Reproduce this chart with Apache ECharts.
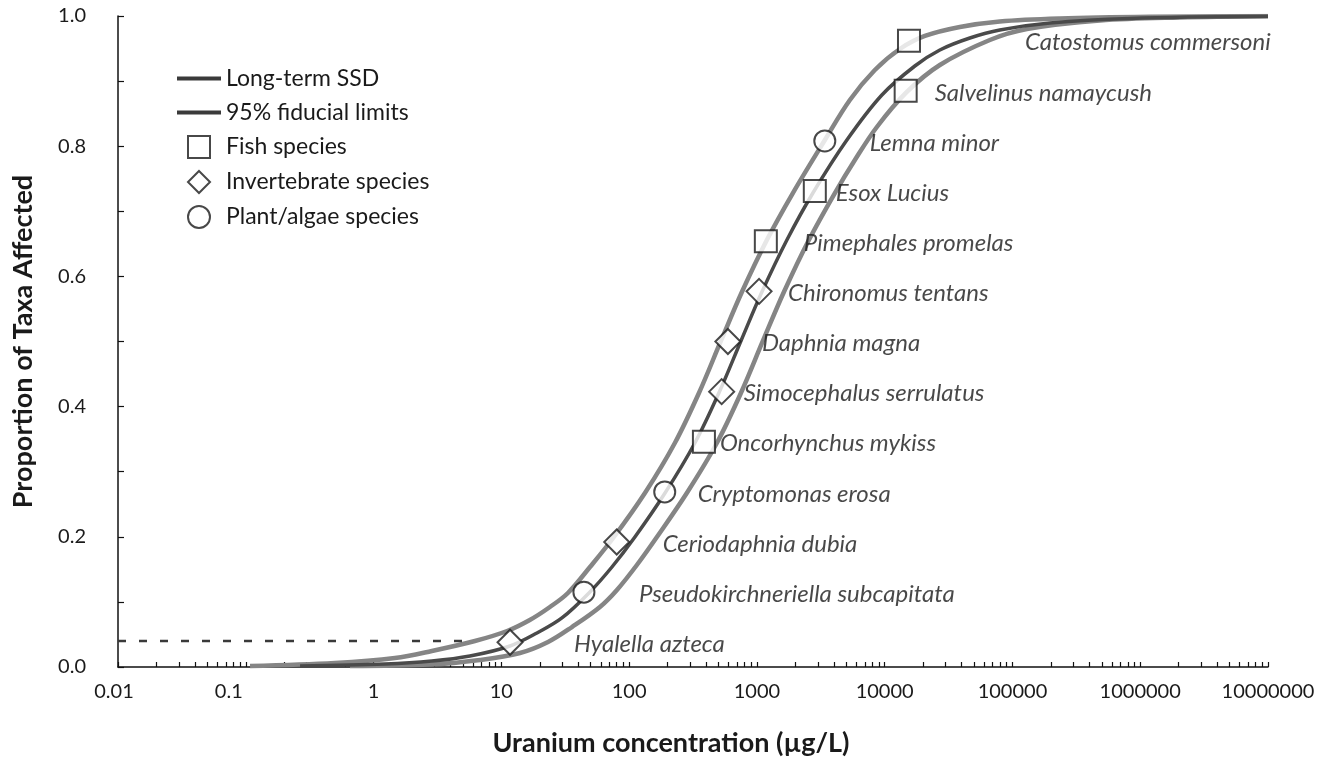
<!DOCTYPE html>
<html>
<head>
<meta charset="utf-8">
<script src="https://cdn.jsdelivr.net/npm/echarts@6/dist/echarts.min.js"></script>
<style>
html,body{margin:0;padding:0;background:#fff;}
#ssdChart{width:1327px;height:769px;}
</style>
</head>
<body>
<div id="ssdChart"></div>
<script>
// species data (concentration in ug/L, plotted proportion)
var species = ['Hyalella azteca','Pseudokirchneriella subcapitata','Ceriodaphnia dubia','Cryptomonas erosa',
	'Oncorhynchus mykiss','Simocephalus serrulatus','Daphnia magna','Chironomus tentans','Pimephales promelas',
	'Esox Lucius','Lemna minor','Salvelinus namaycush','Catostomus commersoni'];
var speciesGroup = ['inv','plant','inv','plant','fish','inv','inv','inv','fish','fish','plant','fish','fish'];
var speciesConc = [11.7, 44.3, 80, 190, 385, 530, 593, 1040, 1175, 2840, 3400, 14600, 15500];
var speciesProp = [0.038, 0.115, 0.192, 0.269, 0.346, 0.423, 0.5, 0.577, 0.654, 0.731, 0.808, 0.885, 0.962];

// fitted SSD curve and its 95% fiducial limits
var ssdX = [0.266, 1.23, 2.86, 5.68, 11.7, 19, 29.8, 48.5, 73.4, 111, 191, 327, 504, 750, 1094, 1717, 2743, 5060, 9510, 17230, 27030, 46420, 79660, 196200, 828900, 10000000];
var ssdY = [0.0015, 0.0046, 0.0092, 0.0169, 0.0323, 0.0522, 0.0753, 0.1137, 0.1536, 0.1997, 0.2673, 0.3441, 0.4209, 0.5008, 0.576, 0.6559, 0.7281, 0.8095, 0.8787, 0.9232, 0.9478, 0.9662, 0.9785, 0.9892, 0.9962, 0.9995];
var lowerX = [0.108, 0.499, 1.47, 2.86, 6.21, 11.1, 16.7, 24, 33.2, 49.4, 76, 133, 228, 352, 523, 763, 1197, 1913, 3405, 5343, 8381, 13150, 20640, 38760, 79660, 234900, 1189000, 10000000];
var lowerY = [0.0015, 0.0061, 0.0138, 0.0246, 0.0399, 0.0553, 0.0722, 0.0922, 0.1137, 0.1536, 0.1997, 0.2673, 0.3441, 0.4209, 0.5008, 0.576, 0.6559, 0.7281, 0.8095, 0.871, 0.917, 0.9493, 0.9693, 0.9831, 0.9916, 0.9962, 0.9988, 1.0];
var upperX = [0.654, 2.76, 6.8, 14, 23.2, 35.7, 59.1, 80.3, 115, 165, 283, 486, 750, 1114, 1627, 2552, 4077, 5846, 8690, 14920, 27030, 66560, 129700, 483100, 2040000, 10000000];
var upperY = [0.0015, 0.0038, 0.0108, 0.0215, 0.0384, 0.0614, 0.0922, 0.1183, 0.1567, 0.1997, 0.2673, 0.3441, 0.4209, 0.5008, 0.576, 0.6559, 0.7281, 0.7788, 0.8295, 0.8833, 0.9247, 0.9631, 0.98, 0.9931, 0.9977, 0.9995];

// HC dashed guide line
var guideX = [0.01, 5.38];
var guideY = [0.04, 0.04];

// axis ticks / labels
var xDecades = [0.01, 0.1, 1, 10, 100, 1000, 10000, 100000, 1000000, 10000000];
var xDecadeLabels = ['0.01','0.1','1','10','100','1000','10000','100000','1000000','10000000'];
var yTickLabels = ['0.0','0.2','0.4','0.6','0.8','1.0'];

var FONT = 'Lato';
var TXT = '#1a1a1a';
var labelGap = [63, 54, 45, 32, 15, 21, 33, 28, 37, 20, 44, 28, 115];
var groupStyle = {
	fish:  {name: 'Fish species', symbol: 'rect', size: 22, icon: 'path://M0,0H10V10H0Z'},
	inv:   {name: 'Invertebrate species', symbol: 'diamond', size: 25, icon: 'path://M5,0L10,5L5,10L0,5Z'},
	plant: {name: 'Plant/algae species', symbol: 'circle', size: 21, icon: 'circle'}
};

function pairs(xs, ys){
	var out = [];
	for (var i = 0; i < xs.length; i++) out.push([xs[i], ys[i]]);
	return out;
}

// log ticks 1..9 in every decade
var xTickValues = [];
for (var d = 0; d < xDecades.length; d++){
	if (d == xDecades.length - 1){ xTickValues.push(xDecades[d]); break; }
	for (var m = 1; m <= 9; m++) xTickValues.push(+(m * xDecades[d]).toPrecision(3));
}

function scatterSeries(key){
	var st = groupStyle[key];
	var data = [];
	for (var i = 0; i < species.length; i++){
		if (speciesGroup[i] != key) continue;
		data.push({
			name: species[i],
			value: [speciesConc[i], speciesProp[i]],
			label: {offset: [labelGap[i] - st.size / 2, 2]}
		});
	}
	return {
		name: st.name,
		type: 'scatter',
		symbol: st.symbol,
		symbolSize: st.size,
		z: 5,
		itemStyle: {color: '#fff', borderColor: TXT, borderWidth: 2},
		label: {
			show: true, position: 'right', distance: 0,
			formatter: '{b}',
			fontFamily: FONT, fontStyle: 'italic', fontSize: 24, color: TXT
		},
		emphasis: {disabled: true},
		data: data
	};
}

var lineIcon = 'path://M0,0H44V4H0Z';

var myChart = echarts.init(document.getElementById('ssdChart'), null, {renderer: 'canvas'});
var option = {
	backgroundColor: '#fff',
	animation: false,
	textStyle: {fontFamily: FONT},
	grid: {left: 118, right: 59, top: 16, bottom: 102},
	legend: {
		orient: 'vertical',
		left: 172, top: 62,
		itemWidth: 44, itemHeight: 22, itemGap: 11,
		symbolKeepAspect: true,
		textStyle: {fontFamily: FONT, fontSize: 23, color: TXT},
		data: [
			{name: 'Long-term SSD', icon: lineIcon, itemStyle: {color: '#3a3a3a', borderWidth: 0}},
			{name: '95% fiducial limits', icon: lineIcon, itemStyle: {color: '#3a3a3a', borderWidth: 0}},
			{name: 'Fish species', icon: groupStyle.fish.icon},
			{name: 'Invertebrate species', icon: groupStyle.inv.icon},
			{name: 'Plant/algae species', icon: groupStyle.plant.icon}
		]
	},
	xAxis: {
		type: 'log', logBase: 10, min: 0.01, max: 10000000,
		name: 'Uranium concentration (\u00b5g/L)',
		nameLocation: 'middle', nameGap: 63,
		nameTextStyle: {fontFamily: FONT, fontWeight: 'bold', fontSize: 27, color: TXT, padding: [0, 44, 0, 0]},
		axisLine: {lineStyle: {color: '#111', width: 1.5}},
		axisTick: {inside: true, length: 5, customValues: xTickValues, lineStyle: {color: '#111', width: 1.2}},
		axisLabel: {
			customValues: xDecades, margin: 15,
			fontFamily: FONT, fontSize: 20, color: TXT,
			formatter: function(v){
				for (var i = 0; i < xDecades.length; i++){
					if (Math.abs(Math.log10(v) - Math.log10(xDecades[i])) < 1e-6){
						// the first two labels sit a little left of their ticks in the original
						if (i == 0) return '{s1|' + xDecadeLabels[i] + '}';
						if (i == 1) return '{s2|' + xDecadeLabels[i] + '}';
						return xDecadeLabels[i];
					}
				}
				return '';
			},
			rich: {
				s1: {fontFamily: FONT, fontSize: 20, color: TXT, padding: [0, 8, 0, 0]},
				s2: {fontFamily: FONT, fontSize: 20, color: TXT, padding: [0, 34, 0, 0]}
			}
		},
		splitLine: {show: false}
	},
	yAxis: {
		type: 'value', min: 0, max: 1, interval: 0.1,
		name: 'Proportion of Taxa Affected',
		nameLocation: 'middle', nameGap: 81,
		nameTextStyle: {fontFamily: FONT, fontWeight: 'bold', fontSize: 27, color: TXT},
		axisLine: {show: true, lineStyle: {color: '#111', width: 1.5}},
		axisTick: {show: true, inside: true, length: 6, lineStyle: {color: '#111', width: 1.2}},
		axisLabel: {
			fontFamily: FONT, fontSize: 20, color: TXT, margin: 32,
			formatter: function(v){
				var k = Math.round(v * 10);
				return k % 2 == 0 ? yTickLabels[k / 2] : '';
			}
		},
		splitLine: {show: false}
	},
	series: [
		{
			name: '95% fiducial limits', type: 'line', smooth: 0.35, symbol: 'none',
			itemStyle: {color: '#858585'},
			lineStyle: {color: '#858585', width: 4.5}, emphasis: {disabled: true},
			data: pairs(lowerX, lowerY)
		},
		{
			name: '95% fiducial limits', type: 'line', smooth: 0.35, symbol: 'none',
			itemStyle: {color: '#858585'},
			lineStyle: {color: '#858585', width: 4.5}, emphasis: {disabled: true},
			data: pairs(upperX, upperY)
		},
		{
			name: 'Long-term SSD', type: 'line', smooth: 0.35, symbol: 'none',
			itemStyle: {color: '#4a4a4a'},
			lineStyle: {color: '#4a4a4a', width: 3.5}, emphasis: {disabled: true},
			data: pairs(ssdX, ssdY)
		},
		{
			name: 'guide', type: 'line', symbol: 'none', silent: true,
			lineStyle: {color: '#3a3a3a', width: 2.5, type: [8, 13]},
			data: pairs(guideX, guideY)
		},
		scatterSeries('fish'),
		scatterSeries('inv'),
		scatterSeries('plant')
	]
};
myChart.setOption(option);
</script>
</body>
</html>
